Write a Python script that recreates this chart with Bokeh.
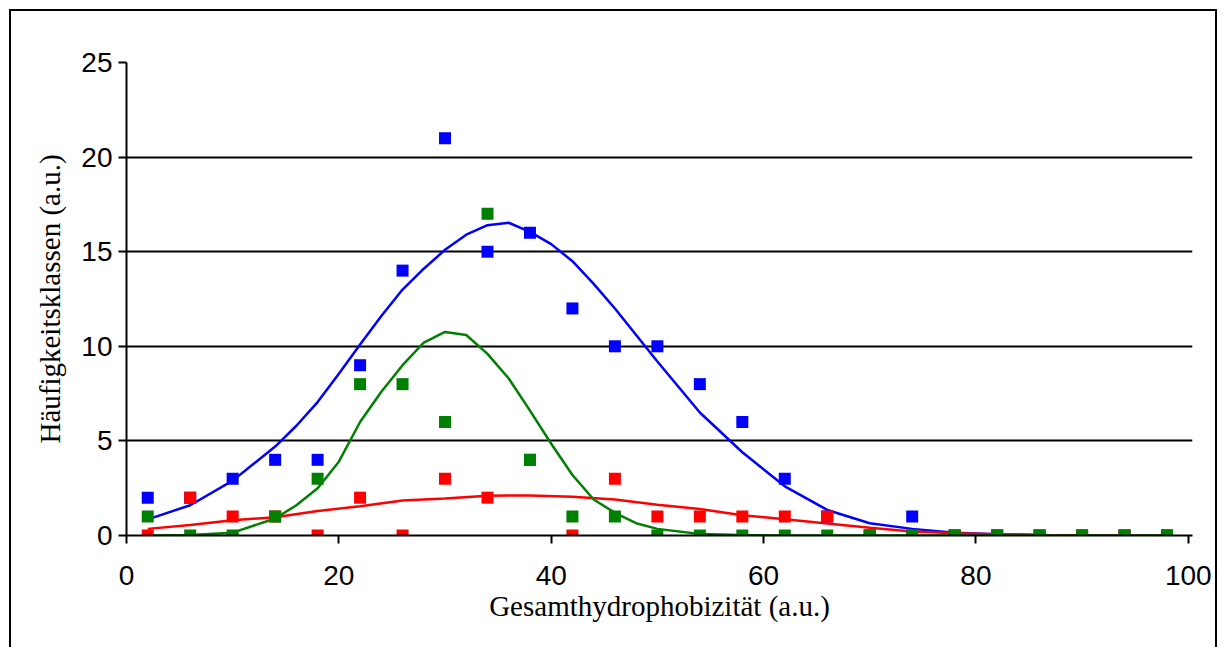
from bokeh.plotting import figure
from bokeh.models import FixedTicker
from bokeh.embed import file_html
from bokeh.resources import INLINE

# Class centres (a.u.) and counts per class for the three groups
x_classes = [2, 6, 10, 14, 18, 22, 26, 30, 34, 38, 42, 46, 50, 54, 58, 62, 66,
             70, 74, 78, 82, 86, 90, 94, 98]
blue_counts = [2, 2, 3, 4, 4, 9, 14, 21, 15, 16, 12, 10, 10, 8, 6, 3, 1,
               0, 1, 0, 0, 0, 0, 0, 0]
red_counts = [0, 2, 1, 1, 0, 2, 0, 3, 2, 4, 0, 3, 1, 1, 1, 1, 1,
              0, 0, 0, 0, 0, 0, 0, 0]
green_counts = [1, 0, 0, 1, 3, 8, 8, 6, 17, 4, 1, 1, 0, 0, 0, 0, 0,
                0, 0, 0, 0, 0, 0, 0, 0]

# Fitted distribution curves
blue_fit_x = [2, 6, 10, 14, 16, 18, 20, 22, 24, 26, 28, 30, 32, 34, 36, 38, 40,
              42, 44, 46, 48, 50, 54, 58, 62, 66, 70, 74, 78, 82, 86, 90, 94, 98]
blue_fit_y = [0.85, 1.6, 2.9, 4.7, 5.8, 7.05, 8.55, 10.1, 11.6, 13.0, 14.1, 15.1,
              15.9, 16.4, 16.53, 16.05, 15.4, 14.5, 13.3, 12.0, 10.6, 9.2, 6.5,
              4.4, 2.6, 1.35, 0.65, 0.35, 0.15, 0.07, 0.03, 0.01, 0.0, 0.0]
red_fit_x = [2, 6, 10, 14, 18, 22, 26, 30, 34, 38, 42, 46, 50, 54, 58, 62, 66,
             70, 74, 78, 82, 86, 90, 94, 98]
red_fit_y = [0.35, 0.55, 0.8, 0.97, 1.29, 1.55, 1.85, 1.96, 2.1, 2.12, 2.05, 1.9,
             1.63, 1.4, 1.07, 0.86, 0.63, 0.41, 0.21, 0.12, 0.06, 0.03, 0.01, 0.0, 0.0]
green_fit_x = [2, 6, 10, 14, 16, 18, 20, 22, 24, 26, 28, 30, 32, 34, 36, 38, 40, 42,
               44, 46, 48, 50, 54, 58, 62, 66, 70, 74, 78, 82, 86, 90, 94, 98]
green_fit_y = [0.0, 0.02, 0.15, 0.9, 1.6, 2.5, 3.9, 6.0, 7.6, 9.0, 10.2, 10.76, 10.6,
               9.6, 8.3, 6.6, 4.85, 3.2, 1.9, 1.2, 0.65, 0.35, 0.08, 0.02, 0.0,
               0.0, 0.0, 0.0, 0.0, 0.0, 0.0, 0.0, 0.0, 0.0]

x_ticks = [0, 20, 40, 60, 80, 100]
y_ticks = [0, 5, 10, 15, 20, 25]

BLUE = "#0000FF"
RED = "#FF0000"
GREEN = "#008000"

p = figure(width=1208, height=640, x_range=(0, 100.4), y_range=(0, 25),
           output_backend="svg", toolbar_location=None,
           min_border_left=115, min_border_right=27,
           min_border_top=51, min_border_bottom=116)
p.styles = {"margin-left": "9px", "margin-top": "9px",
            "border": "2px solid black"}
p.outline_line_color = None
p.background_fill_color = "white"
p.border_fill_color = "white"

# grid: horizontal black lines only
p.xgrid.visible = False
p.ygrid.ticker = FixedTicker(ticks=y_ticks)
p.ygrid.grid_line_color = "black"
p.ygrid.grid_line_width = 2
p.ygrid.grid_line_alpha = 1.0

for ax in (p.xaxis[0], p.yaxis[0]):
    ax.axis_line_color = "black"
    ax.axis_line_width = 2
    ax.major_tick_line_color = "black"
    ax.major_tick_line_width = 2
    ax.major_tick_out = 8
    ax.major_tick_in = 0
    ax.minor_tick_line_color = None
    ax.major_label_text_font = "Liberation Sans"
    ax.major_label_text_font_size = "28px"
    ax.major_label_text_color = "black"
    ax.axis_label_text_font = "Liberation Serif"
    ax.axis_label_text_font_size = "29px"
    ax.axis_label_text_font_style = "normal"
    ax.axis_label_text_color = "black"

p.xaxis.ticker = FixedTicker(ticks=x_ticks)
p.yaxis.ticker = FixedTicker(ticks=y_ticks)
p.xaxis.axis_label = "Gesamthydrophobizität (a.u.)"
p.yaxis.axis_label = "Häufigkeitsklassen (a.u.)"
p.xaxis.major_label_standoff = 22
p.yaxis.major_label_standoff = 6
p.xaxis.axis_label_standoff = 2
p.yaxis.axis_label_standoff = 12

# fitted curves
p.line(blue_fit_x, blue_fit_y, line_color=BLUE, line_width=2.5)
p.line(red_fit_x, red_fit_y, line_color=RED, line_width=2.5)
p.line(green_fit_x, green_fit_y, line_color=GREEN, line_width=2.5)

# class counts
p.scatter(x_classes, blue_counts, marker="square", size=12,
          fill_color=BLUE, line_color=None)
p.scatter(x_classes, red_counts, marker="square", size=12,
          fill_color=RED, line_color=None)
p.scatter(x_classes, green_counts, marker="square", size=12,
          fill_color=GREEN, line_color=None)

open("out.html", "w").write(file_html(p, INLINE))
